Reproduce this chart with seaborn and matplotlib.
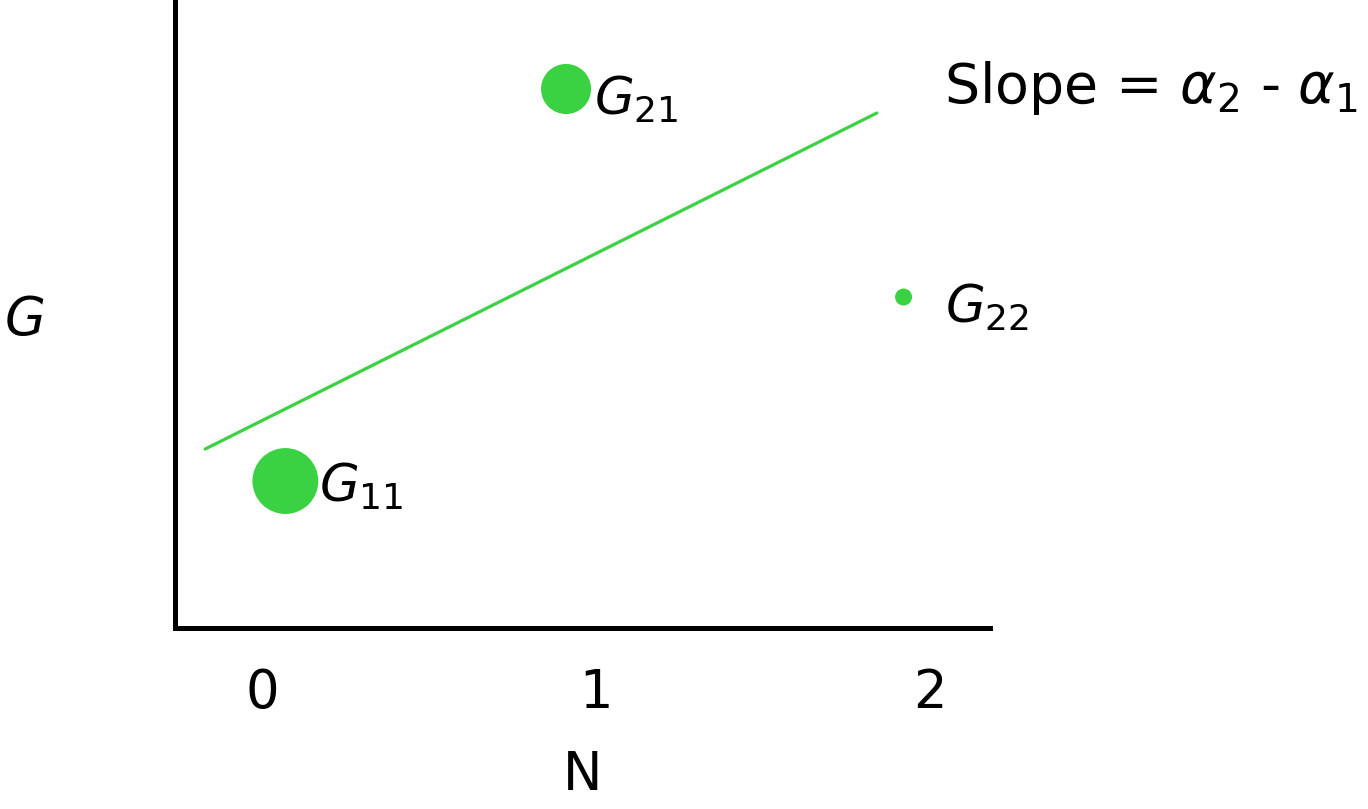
import pandas as pd
import seaborn as sns
import matplotlib.pyplot as plt

# =====================================================================
#   Dados
# =====================================================================

grupos = ['G11', 'G21', 'G22']
n_valores = [0.07, 0.91, 1.92]
g_valores = [1.47, 5.39, 3.31]
rotulos = ['$G_{11}$', '$G_{21}$', '$G_{22}$']

reta_n = [-0.17, 1.84]
reta_g = [1.79, 5.15]

ticks_n = [0, 1, 2]
texto_slope = r'Slope = $\alpha_2$ - $\alpha_1$'

VERDE = '#3AD142'
PRETO = 'black'

sns.set_theme(style='white')
plt.rcParams['font.family'] = ['DejaVu Sans']
plt.rcParams['mathtext.fontset'] = 'dejavusans'

df = pd.DataFrame({'N': n_valores, 'G': g_valores, 'grupo': grupos})

fig = plt.figure(figsize=(13.68, 8.09), dpi=100)
ax = fig.add_axes([0.128, 0.2237, 0.596, 0.7763])

# reta de inclinação
sns.lineplot(x=reta_n, y=reta_g, color=VERDE, linewidth=2.3, ax=ax)

# pontos com tamanhos diferentes
tamanhos = {'G11': 2250, 'G21': 1300, 'G22': 150}
sns.scatterplot(data=df, x='N', y='G', size='grupo', sizes=tamanhos,
                color=VERDE, edgecolor='none', legend=False, ax=ax, zorder=3)

deslocamentos = [(24, -4), (20, -8), (30, -8)]
for xn, yg, rot, desl in zip(n_valores, g_valores, rotulos, deslocamentos):
    ax.annotate(rot, (xn, yg), xytext=desl, textcoords='offset points',
                fontsize=37, va='center', ha='left', color=PRETO)

ax.text(2.04, 5.4, texto_slope, fontsize=40, va='center', ha='left',
        color=PRETO, clip_on=False)

ax.set_xlim(-0.26, 2.18)
ax.set_ylim(0, 6.28)
ax.set_xticks(ticks_n)
ax.set_xticklabels([str(t) for t in ticks_n], fontsize=38, color=PRETO)
ax.set_yticks([])
ax.tick_params(axis='x', length=0, pad=28)

ax.set_xlabel('N', fontsize=38, labelpad=22, color=PRETO)
ax.set_ylabel('')
fig.text(0.018, 0.605, '$G$', fontsize=38, ha='center', va='center', color=PRETO)

sns.despine(ax=ax, top=True, right=True)
for lado in ['left', 'bottom']:
    ax.spines[lado].set_linewidth(3.6)
    ax.spines[lado].set_color(PRETO)

fig.savefig('out.png', dpi=100)
